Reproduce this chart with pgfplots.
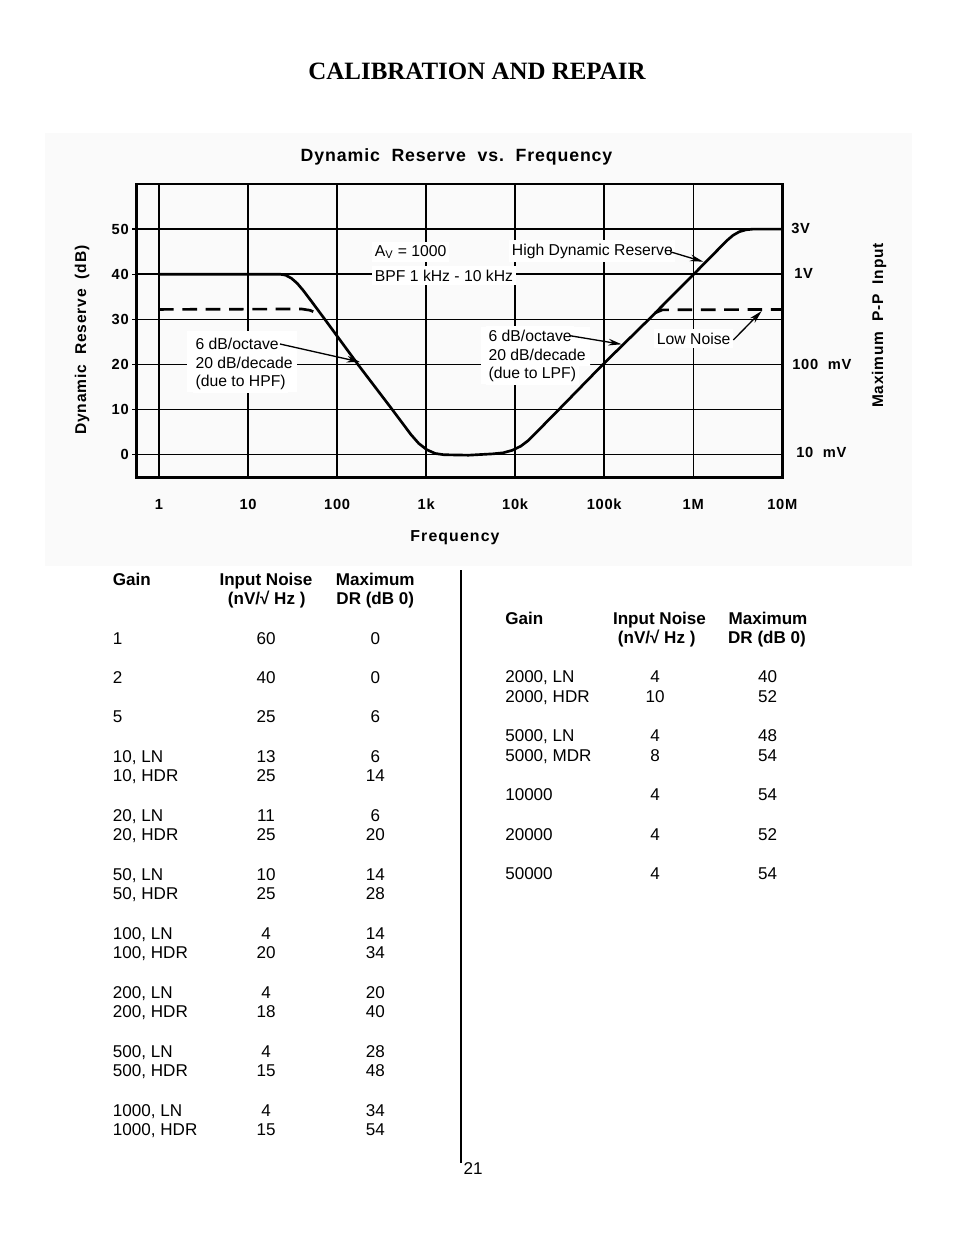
\documentclass[border=0pt]{standalone}
\usepackage{pgfplots}
\pgfplotsset{compat=1.18}
\usepackage{fontspec}
\setmainfont{Liberation Sans}
\newfontfamily\trk[LetterSpace=5]{Liberation Sans}
\newfontfamily\trkw[LetterSpace=7]{Liberation Sans}
\newfontfamily\titlefont{Liberation Serif}
\usetikzlibrary{arrows.meta}
\newcommand{\annfont}{\fontsize{11.8}{14}\selectfont}
\newcommand{\tabfont}{\fontsize{12.8}{15}\selectfont}
\begin{document}
\begin{tikzpicture}
\begin{scope}[x=0.75pt,y=-0.75pt]
\useasboundingbox (0,0) rectangle (954,1235);
\fill[white] (0,0) rectangle (954,1235);
\fill[black!2] (45,133) rectangle (912,566);
\node[font=\titlefont\bfseries\fontsize{18.7}{22}\selectfont] at (477,71) {CALIBRATION AND REPAIR};
\end{scope}

\begin{axis}[
  at={(102.525pt,-357.975pt)}, anchor=south west,
  scale only axis, width=484.2pt, height=220pt,
  xmode=log, log basis x=10,
  xmin=0.5617, xmax=1e7, ymin=-5, ymax=60,
  xtick={1,10,100,1000,10000,100000,1000000,10000000},
  xticklabels={1,10,100,1k,10k,100k,1M,10M},
  ytick={0,10,20,30,40,50},
  yticklabels={0,10,20,30,40,50},
  xminorticks=false, yminorticks=false,
  grid=major,
  major grid style={black, line width=1.1pt},
  axis line style={line width=2pt},
  xtick style={draw=none},
  ytick style={black, line width=1pt},
  tick align=outside, ytick pos=left, major tick length=3.5pt,
  /pgf/number format/assume math mode=true,
  ticklabel style={font=\trk\bfseries\fontsize{11}{12}\selectfont},
  xticklabel style={yshift=-9pt, text height=8pt, text depth=0pt},
  yticklabel style={xshift=1pt},
  every axis title shift=0pt,
  title={Dynamic\ \ Reserve\ \ vs.\ \ Frequency},
  title style={at={(0.4954,1.092)}, anchor=center, font=\trk\bfseries\fontsize{13.3}{16}\selectfont},
  xlabel={Frequency},
  xlabel style={at={(0.493,-0.207)}, anchor=center, font=\trkw\bfseries\fontsize{11.9}{14}\selectfont},
  ylabel={Dynamic\ \ Reserve\ \ (dB)},
  ylabel style={at={(-0.0847,0.468)}, anchor=center, font=\trk\bfseries\fontsize{11.7}{14}\selectfont},
]
% High Dynamic Reserve
\addplot[line width=2pt, line join=round] coordinates {
 (1,40) (22.9,40) (26.4,39.8) (30.7,39.1) (35.6,38.0) (41.7,36.4)
 (52.0,33.9) (73.5,29.9) (173,19.9) (406,10.3) (676,4.46)
 (826,2.51) (1017,1.12) (1265,0.28) (1585,0)
 (3000,-0.1) (5623,0.2) (7328,0.43) (9333,1.0) (11614,1.93) (14125,3.2)
 (30903,10.0) (95499,19.9) (313329,29.9) (1000000,39.9)
 (2398833,47.5) (2786121,48.6) (3273407,49.4) (3890451,49.84)
 (4677351,50) (10000000,50)
};
% Low Noise
\addplot[line width=2pt, dash pattern=on 11pt off 6.5pt] coordinates {
 (1,32.2) (40,32.3) (50,32.0) (55.3,31.6)
};
\addplot[line width=2pt, dash pattern=on 11pt off 6.5pt] coordinates {
 (370000,31.4) (450000,32.1) (10000000,32.2)
};
\end{axis}

\begin{scope}[x=0.75pt,y=-0.75pt]
\node[rotate=90, font=\trk\bfseries\fontsize{11.6}{14}\selectfont] at (879,325.5) {Maximum\ \ P-P\ \ Input};
% right-hand voltage scale
\begin{scope}[font=\trk\bfseries\fontsize{11}{12}\selectfont]
\node[anchor=west, inner sep=0pt] at (791,228.3) {3V};
\node[anchor=west, inner sep=0pt] at (794,273.3) {1V};
\node[anchor=west, inner sep=0pt] at (792,364) {100\ \ mV};
\node[anchor=west, inner sep=0pt] at (796,452.7) {10\ \ mV};
\end{scope}

% annotations
\fill[white] (187,331) rectangle (297,392);
\fill[white] (481,327) -- (590,327) -- (590,366) -- (577,366) -- (577,384) -- (481,384) -- cycle;
\begin{scope}[font=\annfont, every node/.style={anchor=base west, fill=white, inner xsep=2pt, inner ysep=2.6pt}]
\node at (372,256) {A\textsubscript{V} = 1000};
\node at (372,281) {BPF 1 kHz - 10 kHz};
\node at (192.7,349.3) {6 dB/octave};
\node at (192.7,368.3) {20 dB/decade\hspace{3pt}};
\node at (192.7,386.5) {(due to HPF)};
\node at (485.7,341) {6 dB/octave};
\node at (485.7,360) {20 dB/decade};
\node at (485.7,378) {(due to LPF)};
\node at (509,255) {High Dynamic Reserve};
\node at (654,344) {Low Noise};
\end{scope}
\begin{scope}[line width=1pt, -{Stealth[length=10pt,width=5pt]}]
\draw (280,344) -- (360,362);
\draw (570,335.7) -- (621.7,344.3);
\draw (670,251.7) -- (703.3,261.7);
\draw (733.3,340) -- (761.7,311);
\end{scope}

% tables
\begin{scope}[font=\tabfont\bfseries]
\node[anchor=base west, inner sep=0pt] at (112.7,585) {Gain};
\node[anchor=base, inner sep=0pt] at (266,585) {Input Noise};
\node[anchor=base, inner sep=0pt] at (375.3,585) {Maximum};
\node[anchor=base, inner sep=0pt] at (266.7,604.6) {(nV/√ Hz )};
\node[anchor=base, inner sep=0pt] at (375.3,604.6) {DR (dB 0)};
\node[anchor=base west, inner sep=0pt] at (505,624.3) {Gain};
\node[anchor=base, inner sep=0pt] at (659.5,624.3) {Input Noise};
\node[anchor=base, inner sep=0pt] at (768,624.3) {Maximum};
\node[anchor=base, inner sep=0pt] at (656.7,643.9) {(nV/√ Hz )};
\node[anchor=base, inner sep=0pt] at (767,643.9) {DR (dB 0)};
\end{scope}
\begin{scope}[font=\tabfont]
\foreach \g/\n/\d/\y in {1/60/0/644, 2/40/0/683.3, 5/25/6/722.6,
  {10, LN}/13/6/762, {10, HDR}/25/14/781.6,
  {20, LN}/11/6/821, {20, HDR}/25/20/840.6,
  {50, LN}/10/14/880, {50, HDR}/25/28/899.6,
  {100, LN}/4/14/939, {100, HDR}/20/34/958.6,
  {200, LN}/4/20/998, {200, HDR}/18/40/1017.6,
  {500, LN}/4/28/1057, {500, HDR}/15/48/1076.6,
  {1000, LN}/4/34/1116, {1000, HDR}/15/54/1135.6} {
  \node[anchor=base west, inner sep=0pt] at (112.7,\y) {\g};
  \node[anchor=base, inner sep=0pt] at (266,\y) {\n};
  \node[anchor=base, inner sep=0pt] at (375.3,\y) {\d};
}
\foreach \g/\n/\d/\y in {{2000, LN}/4/40/682.7, {2000, HDR}/10/52/702.3,
  {5000, LN}/4/48/741.6, {5000, MDR}/8/54/761.3,
  10000/4/54/800.6, 20000/4/52/840, 50000/4/54/879.3} {
  \node[anchor=base west, inner sep=0pt] at (505,\y) {\g};
  \node[anchor=base, inner sep=0pt] at (655,\y) {\n};
  \node[anchor=base, inner sep=0pt] at (767.5,\y) {\d};
}
\node[anchor=base west, inner sep=0pt] at (463.3,1174) {21};
\end{scope}
\draw[line width=1.1pt] (461,570) -- (461,1163);
\end{scope}
\end{tikzpicture}
\end{document}
